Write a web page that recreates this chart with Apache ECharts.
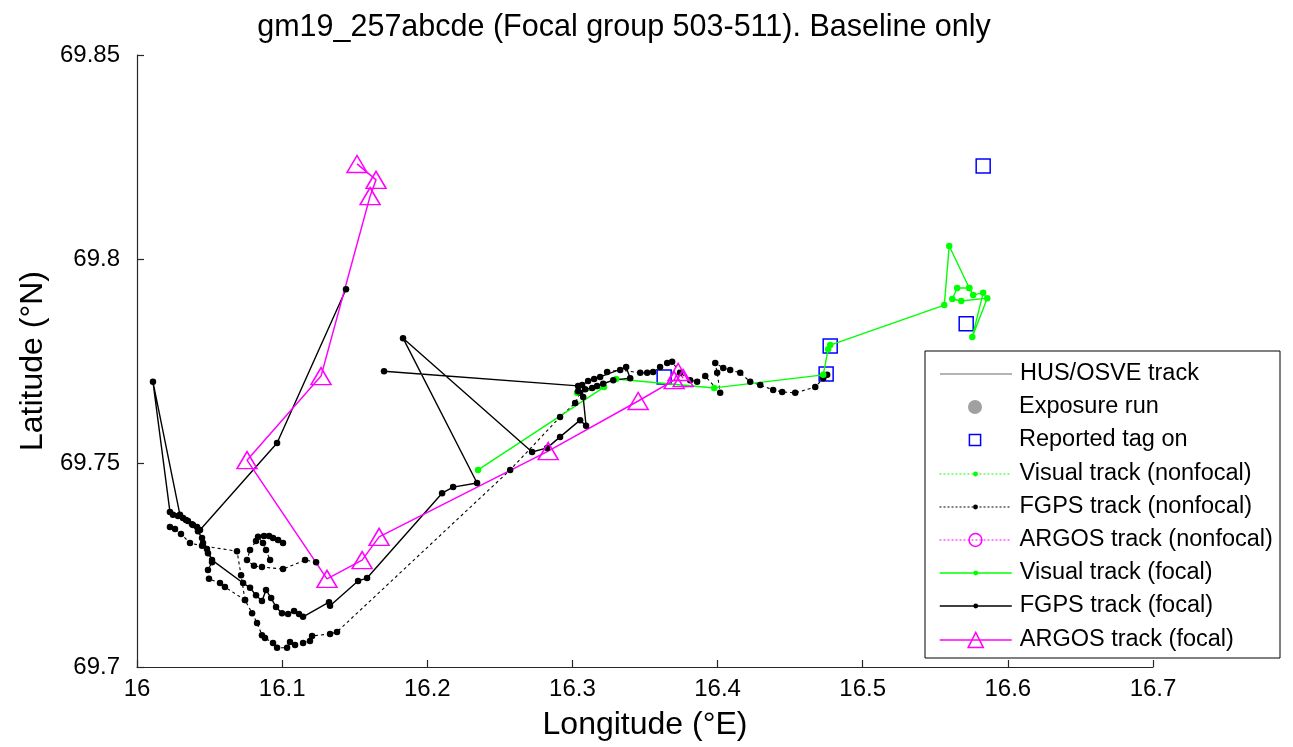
<!DOCTYPE html>
<html>
<head>
<meta charset="utf-8">
<script src="https://cdn.jsdelivr.net/npm/echarts@6/dist/echarts.min.js"></script>
<style>
  html, body { margin: 0; padding: 0; background: #fff; }
  #chart { width: 1293px; height: 747px; }
</style>
</head>
<body>
<div id="chart"></div>
<script>
// ---- axis ticks ----
const lonTicks = [16, 16.1, 16.2, 16.3, 16.4, 16.5, 16.6, 16.7];
const latTicks = [69.7, 69.75, 69.8, 69.85];

// ---- positions as [longitude °E, latitude °N] ----
const reportedTagOn = [
  [16.5830, 69.8228], [16.5713, 69.7841], [16.4776, 69.7787], [16.4748, 69.7718], [16.3632, 69.7711]
];

const visualFocal = [
  [16.2350, 69.7483], [16.3218, 69.7686], [16.3032, 69.7672], [16.3301, 69.7706], [16.3977, 69.7684],
  [16.4728, 69.7716], [16.4762, 69.7779], [16.4776, 69.7789], [16.5562, 69.7887], [16.5596, 69.8032],
  [16.5734, 69.7929], [16.5761, 69.7912], [16.5830, 69.7917], [16.5755, 69.7809], [16.5858, 69.7904],
  [16.5679, 69.7897], [16.5617, 69.7902], [16.5651, 69.7929], [16.5734, 69.7929]
];

const fgpsFocal = [
  [16.1440, 69.7926], [16.0965, 69.7549], [16.0434, 69.7336], [16.0414, 69.7343], [16.0386, 69.7348],
  [16.0351, 69.7358], [16.0317, 69.7365], [16.0283, 69.7370], [16.0248, 69.7373], [16.0227, 69.7380],
  [16.0110, 69.7699], [16.0296, 69.7373], [16.0338, 69.7360], [16.0379, 69.7350], [16.0420, 69.7333],
  [16.0448, 69.7316], [16.0482, 69.7289], [16.0517, 69.7262], [16.0731, 69.7206], [16.0779, 69.7194],
  [16.0820, 69.7176], [16.0861, 69.7162], [16.0889, 69.7189], [16.0924, 69.7169], [16.0958, 69.7147],
  [16.0999, 69.7132], [16.1041, 69.7130], [16.1082, 69.7137], [16.1116, 69.7130], [16.1144, 69.7123],
  [16.1323, 69.7159], [16.1330, 69.7150], [16.1523, 69.7211], [16.1585, 69.7218], [16.2102, 69.7426],
  [16.2178, 69.7441], [16.2343, 69.7451], [16.1833, 69.7806], [16.2722, 69.7527], [16.2826, 69.7537],
  [16.2915, 69.7564], [16.3053, 69.7605], [16.3094, 69.7591], [16.3074, 69.7662], [16.3039, 69.7676],
  [16.3067, 69.7691], [16.3108, 69.7701], [16.3150, 69.7706], [16.3191, 69.7711], [16.3370, 69.7735],
  [16.3398, 69.7708], [16.3281, 69.7703], [16.3212, 69.7694], [16.3170, 69.7689], [16.3136, 69.7684],
  [16.3088, 69.7681], [16.3039, 69.7689], [16.1702, 69.7725]
];

// non-focal FGPS fixes, one array per continuous track piece
const fgpsNonfocalWest = [
  [16.0227, 69.7343], [16.0262, 69.7338], [16.0303, 69.7326], [16.0365, 69.7304], [16.0448, 69.7297],
  [16.0689, 69.7284], [16.0717, 69.7225], [16.0744, 69.7164]
];
const fgpsNonfocalSouth = [
  [16.0455, 69.7304], [16.0489, 69.7279], [16.0517, 69.7257], [16.0489, 69.7238], [16.0496, 69.7216],
  [16.0572, 69.7206], [16.0606, 69.7196], [16.0744, 69.7164], [16.0793, 69.7132], [16.0827, 69.7108],
  [16.0861, 69.7078], [16.0882, 69.7071], [16.0937, 69.7059], [16.0965, 69.7047], [16.1034, 69.7047],
  [16.1054, 69.7061], [16.1089, 69.7054], [16.1144, 69.7059], [16.1192, 69.7064], [16.1206, 69.7076],
  [16.1330, 69.7081], [16.1378, 69.7086], [16.2571, 69.7483], [16.2915, 69.7613], [16.3019, 69.7647],
  [16.3053, 69.7672]
];
const fgpsNonfocalMid = [
  [16.1234, 69.7257], [16.1158, 69.7262], [16.1006, 69.7240], [16.0861, 69.7245], [16.0806, 69.7248],
  [16.0758, 69.7262], [16.0779, 69.7287], [16.0820, 69.7309], [16.0834, 69.7319], [16.0868, 69.7304],
  [16.0889, 69.7287], [16.0917, 69.7262]
];
const fgpsNonfocalMidNorth = [
  [16.0875, 69.7321], [16.0910, 69.7321], [16.0937, 69.7316], [16.0972, 69.7311], [16.1006, 69.7304]
];
const fgpsNonfocalEast = [
  [16.3239, 69.7723], [16.3329, 69.7728], [16.3467, 69.7721], [16.3515, 69.7721], [16.3556, 69.7723],
  [16.3604, 69.7735], [16.3653, 69.7745], [16.3687, 69.7748], [16.3742, 69.7721], [16.3811, 69.7703],
  [16.3859, 69.7699], [16.3915, 69.7713], [16.4018, 69.7672], [16.3997, 69.7721], [16.3984, 69.7745],
  [16.4039, 69.7733], [16.4087, 69.7728], [16.4156, 69.7721], [16.4225, 69.7699], [16.4294, 69.7691],
  [16.4383, 69.7679], [16.4445, 69.7674], [16.4535, 69.7672], [16.4673, 69.7686], [16.4728, 69.7708],
  [16.4755, 69.7716]
];

const argosFocal = [
  [16.1516, 69.8233], [16.1647, 69.8194], [16.1606, 69.8154], [16.1268, 69.7713], [16.0758, 69.7507],
  [16.1309, 69.7216], [16.1551, 69.7262], [16.1668, 69.7319], [16.2833, 69.7529], [16.3453, 69.7652],
  [16.3701, 69.7703], [16.3728, 69.7723], [16.3763, 69.7708]
];

const legendNames = [
  'HUS/OSVE track', 'Exposure run', 'Reported tag on',
  'Visual track (nonfocal)', 'FGPS track (nonfocal)', 'ARGOS track (nonfocal)',
  'Visual track (focal)', 'FGPS track (focal)', 'ARGOS track (focal)'
];

const titleText = 'gm19_257abcde (Focal group 503-511). Baseline only';

// ---- styling ----
const FONT = '"Liberation Sans", Arial, Helvetica, sans-serif';
const GREEN = '#00ff00', BLACK = '#000000', MAGENTA = '#ff00ff', BLUE = '#0000ff', GREY = '#a0a0a0';
const DOTTED_PLOT = [3, 3];
const DOTTED_KEY = [2, 2];
const NO_LINE = { width: 0, opacity: 0 };

const lineSeries = (name, data, color, opts) => Object.assign({
  name, type: 'line', data, color,
  symbol: 'circle', symbolSize: 6.5,
  itemStyle: { color, borderWidth: 0 },
  lineStyle: { color, width: 1.4 },
  emphasis: { disabled: true },
  animation: false, z: 2
}, opts);

const nonfocalStyle = { lineStyle: { color: BLACK, width: 1.1, type: DOTTED_PLOT } };

const series = [
  lineSeries('HUS/OSVE track', [], '#b4b4b4', { symbol: 'none', lineStyle: { color: '#b4b4b4', width: 2 } }),
  lineSeries('Exposure run', [], GREY, { lineStyle: NO_LINE }),
  // markers only: the connecting line is switched off
  lineSeries('Reported tag on', reportedTagOn, BLUE, {
    symbol: 'rect', symbolSize: 14, z: 1, lineStyle: NO_LINE,
    itemStyle: { color: 'transparent', borderColor: BLUE, borderWidth: 1.5 } }),
  lineSeries('Visual track (nonfocal)', [], GREEN, { lineStyle: { color: GREEN, width: 1, type: DOTTED_KEY } }),
  lineSeries('FGPS track (nonfocal)', fgpsNonfocalWest, BLACK, nonfocalStyle),
  lineSeries('FGPS track (nonfocal)', fgpsNonfocalSouth, BLACK, nonfocalStyle),
  lineSeries('FGPS track (nonfocal)', fgpsNonfocalMid, BLACK, nonfocalStyle),
  lineSeries('FGPS track (nonfocal)', fgpsNonfocalMidNorth, BLACK, nonfocalStyle),
  lineSeries('FGPS track (nonfocal)', fgpsNonfocalEast, BLACK, nonfocalStyle),
  lineSeries('ARGOS track (nonfocal)', [], MAGENTA, {
    itemStyle: { color: 'transparent', borderColor: MAGENTA, borderWidth: 1.5 },
    lineStyle: { color: MAGENTA, width: 1, type: DOTTED_KEY } }),
  lineSeries('Visual track (focal)', visualFocal, GREEN, {}),
  lineSeries('FGPS track (focal)', fgpsFocal, BLACK, {}),
  lineSeries('ARGOS track (focal)', argosFocal, MAGENTA, {
    symbol: 'triangle', symbolSize: [20, 17],
    itemStyle: { color: 'transparent', borderColor: MAGENTA, borderWidth: 1.5 },
    lineStyle: { color: MAGENTA, width: 1.5 } })
];

// one single-entry legend per key row, so each row keeps its own marker size
const HIDDEN_KEY_LINE = { color: 'transparent', width: 0 };
const keyLook = {
  'HUS/OSVE track':          { h: 10, item: { color: 'transparent', borderWidth: 0 }, line: { color: '#b4b4b4', width: 2, type: 'solid' } },
  'Exposure run':            { h: 17.5, item: { color: GREY, borderWidth: 0 }, line: HIDDEN_KEY_LINE },
  'Reported tag on':         { h: 14, item: { color: 'transparent', borderColor: BLUE, borderWidth: 1.5 }, line: HIDDEN_KEY_LINE },
  'Visual track (nonfocal)': { h: 6, item: { color: GREEN, borderWidth: 0 }, line: { color: GREEN, width: 1, type: DOTTED_KEY } },
  'FGPS track (nonfocal)':   { h: 6, item: { color: BLACK, borderWidth: 0 }, line: { color: BLACK, width: 1, type: DOTTED_KEY } },
  'ARGOS track (nonfocal)':  { h: 16, item: { color: 'transparent', borderColor: MAGENTA, borderWidth: 1.5 }, line: { color: MAGENTA, width: 1, type: DOTTED_KEY } },
  'Visual track (focal)':    { h: 6, item: { color: GREEN, borderWidth: 0 }, line: { color: GREEN, width: 1.5, type: 'solid' } },
  'FGPS track (focal)':      { h: 6, item: { color: BLACK, borderWidth: 0 }, line: { color: BLACK, width: 1.5, type: 'solid' } },
  'ARGOS track (focal)':     { h: 19, item: { color: 'transparent', borderColor: MAGENTA, borderWidth: 1.5 }, line: { color: MAGENTA, width: 1.5, type: 'solid' } }
};
const KEY_BOX = { x: 925, y: 351, w: 355, h: 307 };
const KEY_FIRST_ROW = 374, KEY_ROW_STEP = 33.2, KEY_TEXT_H = 24;

const legends = legendNames.map((name, i) => {
  const look = keyLook[name];
  return {
    data: [name], orient: 'vertical', left: 939,
    top: Math.round(KEY_FIRST_ROW + i * KEY_ROW_STEP - KEY_TEXT_H / 2),
    padding: 0, itemGap: 0, itemWidth: 72, itemHeight: look.h,
    selectedMode: false, z: 5,
    textStyle: { fontFamily: FONT, fontSize: 23.5, lineHeight: KEY_TEXT_H, color: '#000', padding: [0, 0, 0, 3] },
    itemStyle: look.item,
    lineStyle: look.line
  };
});

const axisCommon = {
  axisLine: { show: true, onZero: false, lineStyle: { color: '#262626', width: 1.2 } },
  axisTick: { show: true, inside: true, length: 7, lineStyle: { color: '#262626', width: 1.2 } },
  splitLine: { show: false },
  axisLabel: { color: '#000', fontFamily: FONT, fontSize: 24 },
  nameTextStyle: { color: '#000', fontFamily: FONT, fontSize: 32 }
};

const option = {
  backgroundColor: '#fff',
  animation: false,
  title: {
    text: titleText, left: 619, top: 7, textAlign: 'center',
    textStyle: { fontFamily: FONT, fontSize: 30.5, fontWeight: 'normal', color: '#000' }
  },
  grid: { left: 137, right: 140, top: 55, bottom: 80, containLabel: false, outerBoundsMode: 'none' },
  xAxis: Object.assign({}, axisCommon, {
    type: 'value', min: lonTicks[0], max: lonTicks[lonTicks.length - 1],
    interval: +(lonTicks[1] - lonTicks[0]).toFixed(4),
    name: 'Longitude (°E)', nameLocation: 'middle', nameGap: 42,
    axisLabel: Object.assign({}, axisCommon.axisLabel, { margin: 10 })
  }),
  yAxis: Object.assign({}, axisCommon, {
    type: 'value', min: latTicks[0], max: latTicks[latTicks.length - 1],
    interval: +(latTicks[1] - latTicks[0]).toFixed(4),
    name: 'Latitude (°N)', nameLocation: 'middle', nameGap: 84,
    axisLabel: Object.assign({}, axisCommon.axisLabel, { margin: 17,
      formatter: v => String(+v.toFixed(2)) })
  }),
  legend: legends,
  graphic: [{
    type: 'rect', z: 3, silent: true,
    shape: { x: KEY_BOX.x, y: KEY_BOX.y, width: KEY_BOX.w, height: KEY_BOX.h },
    style: { fill: '#fff', stroke: '#000', lineWidth: 1 }
  }],
  series
};

const chart = echarts.init(document.getElementById('chart'), null, { renderer: 'canvas' });
chart.setOption(option);
</script>
</body>
</html>
